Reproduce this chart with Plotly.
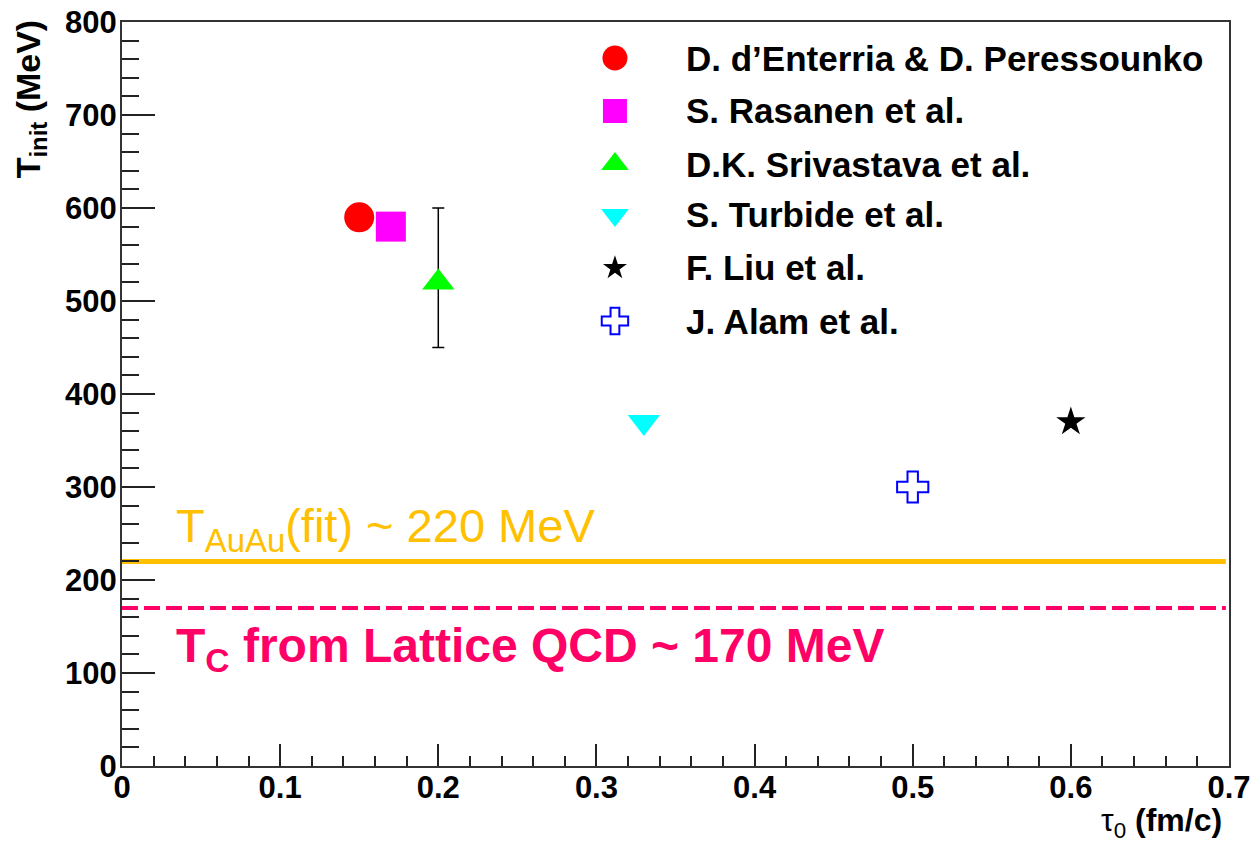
import plotly.graph_objects as go

# Model estimates of initial temperature vs. thermalisation time
authors = [
    "D. d\u2019Enterria & D. Peressounko",
    "S. Rasanen et al.",
    "D.K. Srivastava et al.",
    "S. Turbide et al.",
    "F. Liu et al.",
    "J. Alam et al.",
]
tau0 = [0.15, 0.17, 0.20, 0.33, 0.60, 0.50]          # fm/c
t_init = [590, 580, 520, 370, 370, 300]               # MeV
err_up = [None, None, 80, None, None, None]
err_down = [None, None, 70, None, None, None]

symbols = ["circle", "square", "triangle-up", "triangle-down", "star", "cross-open"]
colors = ["#ff0000", "#ff00ff", "#00ff00", "#00ffff", "#000000", "#0000ff"]
sizes = [30, 30, 28, 28, 22, 26]
legend_sizes = [25, 24, 24, 24, 18, 22]

T_FIT = 220       # MeV, Au+Au fit
T_C = 170         # MeV, lattice QCD

x_ticks = [0, 0.1, 0.2, 0.3, 0.4, 0.5, 0.6, 0.7]
y_ticks = [0, 100, 200, 300, 400, 500, 600, 700, 800]

FONT = "Liberation Sans, Arial, sans-serif"

fig = go.Figure()

# horizontal reference temperatures
fig.add_trace(go.Scatter(x=[0, 0.698], y=[T_FIT, T_FIT], mode="lines",
                         line=dict(color="#ffc000", width=5), showlegend=False,
                         hoverinfo="skip"))
fig.add_trace(go.Scatter(x=[0, 0.698], y=[T_C, T_C], mode="lines",
                         line=dict(color="#ff0066", width=4, dash="16px,6px"),
                         showlegend=False, hoverinfo="skip"))

# data points
for i, name in enumerate(authors):
    ey = None
    if err_up[i] is not None:
        ey = dict(type="data", symmetric=False, array=[err_up[i]],
                  arrayminus=[err_down[i]], color="black", thickness=1.5, width=6)
    open_sym = symbols[i].endswith("-open")
    fig.add_trace(go.Scatter(
        x=[tau0[i]], y=[t_init[i]], mode="markers", name=name,
        marker=dict(symbol=symbols[i], size=sizes[i], color=colors[i],
                    line=dict(width=2 if open_sym else 0, color=colors[i])),
        error_y=ey, showlegend=False,
    ))

# legend drawn on an overlay unit axis
leg_x_marker = 0.4453
leg_x_text = 0.5077
leg_rows = [0.9516, 0.8804, 0.8091, 0.7406, 0.6694, 0.5981]
for i, name in enumerate(authors):
    open_sym = symbols[i].endswith("-open")
    fig.add_trace(go.Scatter(
        x=[leg_x_marker], y=[leg_rows[i]], xaxis="x2", yaxis="y2",
        mode="markers", showlegend=False, hoverinfo="skip",
        marker=dict(symbol=symbols[i], size=legend_sizes[i], color=colors[i],
                    line=dict(width=2 if open_sym else 0, color=colors[i])),
    ))

annotations = []
for i, name in enumerate(authors):
    annotations.append(dict(
        x=leg_x_text, y=leg_rows[i], xref="x2", yref="y2", text=name,
        showarrow=False, xanchor="left", yanchor="middle",
        font=dict(family=FONT, size=35, color="black", weight="bold")))

annotations += [
    dict(x=0.033, y=T_FIT + 0, xref="x", yref="y", xanchor="left", yanchor="bottom",
         text=f"T<sub>AuAu</sub>(fit) ~ {T_FIT} MeV", showarrow=False,
         font=dict(family=FONT, size=47, color="#ffc000")),
    dict(x=0.033, y=T_C - 10, xref="x", yref="y", xanchor="left", yanchor="top",
         text=f"T<sub>C</sub> from Lattice QCD ~ {T_C} MeV", showarrow=False,
         font=dict(family=FONT, size=48, color="#ff0066", weight="bold")),
    dict(x=-0.0831, y=1.005, xref="paper", yref="paper", xanchor="center", yanchor="top",
         textangle=-90, text="T<sub>init</sub> (MeV)", showarrow=False,
         font=dict(family=FONT, size=34, color="black", weight="bold")),
    dict(x=0.9955, y=1.0 - (822 - 22) / 744, xref="paper", yref="paper",
         xanchor="right", yanchor="middle",
         text="\u03c4<sub>0</sub> <b>(fm/c)</b>", showarrow=False,
         font=dict(family=FONT, size=32, color="black")),
]

axis_font = dict(family=FONT, size=31, color="black", weight="bold")

fig.update_layout(
    width=1252, height=843,
    margin=dict(l=122, r=23, t=22, b=77, autoexpand=False),
    paper_bgcolor="white", plot_bgcolor="white",
    showlegend=False,
    annotations=annotations,
    xaxis=dict(range=[0, 0.7], tickvals=x_ticks, ticktext=[f"{v:g}" for v in x_ticks],
               ticks="inside", ticklen=22, tickwidth=2, tickcolor="#222",
               minor=dict(dtick=0.02, ticks="inside", ticklen=10, tickwidth=2, tickcolor="#222"),
               showline=True, linecolor="#333", linewidth=2, mirror=True,
               showgrid=False, zeroline=False, tickfont=axis_font,
               ticklabelstandoff=-7, automargin=False),
    yaxis=dict(range=[0, 800], tickvals=y_ticks,
               ticks="inside", ticklen=33, tickwidth=2, tickcolor="#222",
               minor=dict(dtick=20, ticks="inside", ticklen=17, tickwidth=2, tickcolor="#222"),
               showline=True, linecolor="#333", linewidth=2, mirror=True,
               showgrid=False, zeroline=False, tickfont=axis_font,
               ticklabelstandoff=-3, automargin=False),
    xaxis2=dict(range=[0, 1], overlaying="x", visible=False, fixedrange=True),
    yaxis2=dict(range=[0, 1], overlaying="y", visible=False, fixedrange=True),
)

fig.write_html("out.html")
